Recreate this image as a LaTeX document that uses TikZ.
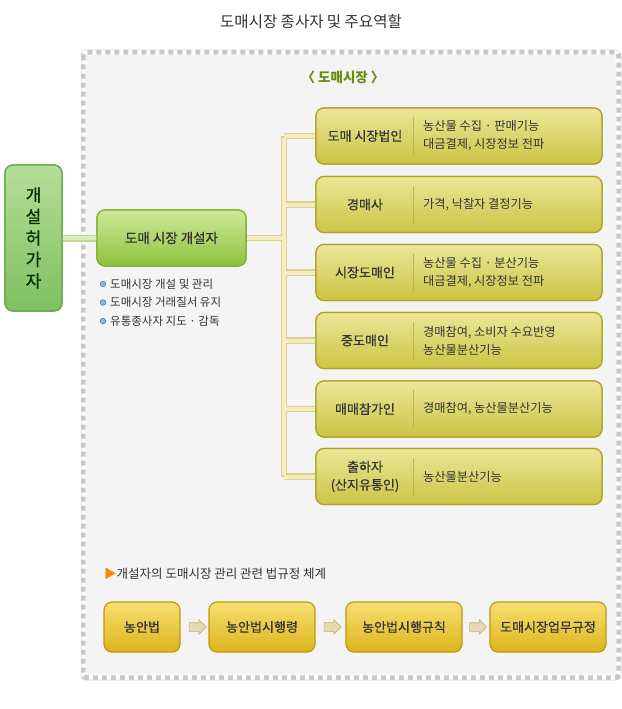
\documentclass[tikz,border=0pt]{standalone}
\usepackage{fontspec}
\setmainfont{Noto Sans CJK KR}
\newfontfamily\semib{Noto Sans CJK KR}[FakeBold=0.7]
\usetikzlibrary{shapes.arrows}
\definecolor{txt}{HTML}{333333}
\definecolor{ytop}{HTML}{EBE798}
\definecolor{ybot}{HTML}{CBC444}
\definecolor{ybrd}{HTML}{ABA324}
\definecolor{gtop}{HTML}{CDEA98}
\definecolor{gbot}{HTML}{8EC23E}
\definecolor{gbrd}{HTML}{7EAE2C}
\definecolor{ltop}{HTML}{B4DE98}
\definecolor{lbot}{HTML}{80C060}
\definecolor{lbrd}{HTML}{62A444}
\definecolor{otop}{HTML}{F6E070}
\definecolor{obot}{HTML}{DDB41E}
\definecolor{obrd}{HTML}{BE9810}
\definecolor{trko}{HTML}{DDD08A}
\definecolor{trki}{HTML}{F4EDC2}
\definecolor{gcno}{HTML}{C2DC8E}
\definecolor{gcni}{HTML}{DCEDB8}
\definecolor{panel}{HTML}{F4F4F4}
\definecolor{stripe}{HTML}{C8C8C8}
\definecolor{olive}{HTML}{6A8A10}
\definecolor{orng}{HTML}{F68A00}
\definecolor{arf}{HTML}{E4DAB2}
\definecolor{ard}{HTML}{C2B07C}
\definecolor{dotf}{HTML}{8EB6E2}
\definecolor{dotd}{HTML}{4C82C2}
\begin{document}
\begin{tikzpicture}[x=1pt,y=-1pt,
  ybox/.style={draw=ybrd, line width=1.2pt, rounded corners=8pt, top color=ytop, bottom color=ybot, minimum width=286pt, minimum height=56pt, inner sep=0pt},
  gbox/.style={draw=gbrd, line width=1.2pt, rounded corners=8pt, top color=gtop, bottom color=gbot, minimum width=149pt, minimum height=56pt, font=\semib\fontsize{13.5}{15}\selectfont, text=txt},
  lbox/.style={draw=lbrd, line width=1.2pt, rounded corners=8pt, top color=ltop, bottom color=lbot, minimum width=57pt, minimum height=146pt, font=\semib\fontsize{17}{21.5}\selectfont, text=black!70!green!60!black, align=center},
  obox/.style={draw=obrd, line width=1.2pt, rounded corners=8pt, top color=otop, bottom color=obot, minimum height=50pt, font=\semib\fontsize{13}{15}\selectfont, text=txt},
  lbl/.style={font=\semib\fontsize{13}{15}\selectfont, text=txt, align=center},
  desc/.style={anchor=west, font=\fontsize{12.2}{18}\selectfont, text=txt, align=left, inner sep=0pt},
  bul/.style={anchor=west, font=\fontsize{11.5}{13}\selectfont, text=txt, inner sep=0pt},
  bdot/.style={circle, draw=dotd, fill=dotf, line width=0.7pt, minimum size=5.5pt, inner sep=0pt},
  barrow/.style={single arrow, draw=ard, fill=arf, line width=0.6pt, inner sep=4pt, minimum height=17pt, single arrow head extend=3pt},
  divl/.style={draw=ybrd!80, line width=0.8pt}]
\useasboundingbox (0,0) rectangle (621,709);
% title
\node[font=\fontsize{15.5}{18}\selectfont, text=txt] (title) at (311,22) {도매시장 종사자 및 주요역할};
% frame
\fill[white, rounded corners=4pt] (81,50) rectangle (621,680);
\draw[stripe, line width=5pt, dash pattern=on 5pt off 4pt, rounded corners=3pt] (83.5,52.5) rectangle (618.5,677.5);
\draw[black!18, line width=0.5pt, rounded corners=4pt] (81,50) rectangle (621,680);
\fill[panel, rounded corners=3pt] (86,55) rectangle (616,675);
\draw[white, line width=0.8pt, rounded corners=3pt] (86,55) rectangle (616,675);
\node[font=\bfseries\fontsize{13.5}{15}\selectfont, text=olive] (mkt) at (343,77) {〈 도매시장 〉};
% coordinates of the tree
\coordinate (j) at (284,238);
\coordinate (t1) at (284,136);
\coordinate (t2) at (284,204.5);
\coordinate (t3) at (284,272.5);
\coordinate (t4) at (284,340.5);
\coordinate (t5) at (284,409);
\coordinate (t6) at (284,476.5);
% boxes
\node[lbox] (perm) at (33.5,238) {개\\설\\허\\가\\자};
\node[gbox] (main) at (171.5,238) {};
\node[ybox] (b1) at (459,136) {};
\node[ybox] (b2) at (459,204.5) {};
\node[ybox] (b3) at (459,272.5) {};
\node[ybox] (b4) at (459,340.5) {};
\node[ybox] (b5) at (459,409) {};
\node[ybox] (b6) at (459,476.5) {};
% connectors (outer then inner)
\draw[gcno, line width=7pt] (perm.east) -- (main.west);
\draw[gcni, line width=4.5pt] ([xshift=-0.6pt]perm.east) -- ([xshift=0.6pt]main.west);
\draw[trko, line width=6.5pt] (main.east) -- (j);
\draw[trko, line width=6.5pt] (t1) -- (t6);
\foreach \i in {1,...,6} \draw[trko, line width=6.5pt] (t\i) -- (b\i.west);
\draw[trki, line width=4pt] ([xshift=0.6pt]main.east) -- (j);
\draw[trki, line width=4pt] ([yshift=-2pt]t1) -- ([yshift=2pt]t6);
\foreach \i in {1,...,6} \draw[trki, line width=4pt] (t\i) -- ([xshift=-0.6pt]b\i.west);
% redraw boxes on top of connector ends
\node[gbox] at (main.center) {도매 시장 개설자};
\node[lbox] at (perm.center) {개\\설\\허\\가\\자};
\foreach \i in {1,...,6} \node[ybox] at (b\i.center) {};
% dividers
\foreach \i in {1,...,6} \draw[divl] ([xshift=98pt,yshift=-19pt]b\i.west) -- ([xshift=98pt,yshift=19pt]b\i.west);
% labels
\node[lbl] (l1) at (365,136) {도매 시장법인};
\node[lbl] (l2) at (365,204.5) {경매사};
\node[lbl] (l3) at (365,272.5) {시장도매인};
\node[lbl] (l4) at (365,340.5) {중도매인};
\node[lbl] (l5) at (365,409) {매매참가인};
\node[lbl, font=\semib\fontsize{13}{18}\selectfont] (l6) at (365,476.5) {출하자\\(산지유통인)};
\node[desc] (d1) at (423,136) {농산물 수집 · 판매기능\\대금결제, 시장정보 전파};
\node[desc] (d2) at (423,204.5) {가격, 낙찰자 결정기능};
\node[desc] (d3) at (423,272.5) {농산물 수집 · 분산기능\\대금결제, 시장정보 전파};
\node[desc] (d4) at (423,340.5) {경매참여, 소비자 수요반영\\농산물분산기능};
\node[desc] (d5) at (423,409) {경매참여, 농산물분산기능};
\node[desc] (d6) at (423,476.5) {농산물분산기능};
% bullets
\node[bdot] (p1) at (103,284) {};
\node[bdot] (p2) at (103,302.5) {};
\node[bdot] (p3) at (103,321) {};
\node[bul] (q1) at (110,284) {도매시장 개설 및 관리};
\node[bul] (q2) at (110,302.5) {도매시장 거래질서 유지};
\node[bul] (q3) at (110,321) {유통종사자 지도 · 감독};
% law section
\node[anchor=west, font=\fontsize{12.5}{14}\selectfont, text=txt, inner sep=0pt] (law) at (104,574) {\textcolor{orng}{▶}개설자의 도매시장 관리 관련 법규정 체계};
\node[obox, minimum width=76pt] (o1) at (142,627) {농안법};
\node[obox, minimum width=106pt] (o2) at (262,627) {농안법시행령};
\node[obox, minimum width=116pt] (o3) at (404,627) {농안법시행규칙};
\node[obox, minimum width=116pt] (o4) at (548,627) {도매시장업무규정};
\node[barrow] (a1) at (195.5,627) {};
\node[barrow] (a2) at (330.5,627) {};
\node[barrow] (a3) at (476,627) {};
\end{tikzpicture}
\end{document}
